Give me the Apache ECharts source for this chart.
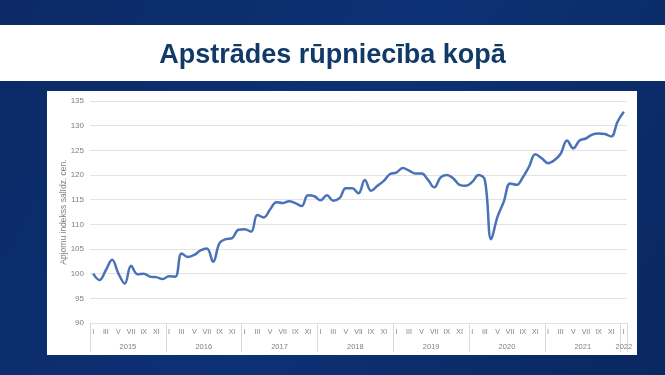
<!DOCTYPE html>
<html>
<head>
<meta charset="utf-8">
<script src="https://cdn.jsdelivr.net/npm/echarts@6/dist/echarts.min.js"></script>
<style>
html,body{margin:0;padding:0;}
#c{width:665px;height:375px;}
</style>
</head>
<body>
<div id="c"></div>
<script>
const years = ['2015','2016','2017','2018','2019','2020','2021','2022'];
const months = ['I','II','III','IV','V','VI','VII','VIII','IX','X','XI','XII'];
const values = [
  100.0, 98.7, 100.7, 102.8, 100.0, 98.0, 101.6, 99.9, 100.0, 99.4, 99.3, 98.9,
  99.5, 99.4, 104.1, 103.4, 103.8, 104.7, 105.1, 102.4, 106.2, 107.0, 107.2, 108.9,
  109.0, 108.5, 111.9, 111.4, 113.0, 114.5, 114.3, 114.7, 114.3, 113.7, 115.9, 115.7,
  114.9, 115.9, 114.8, 115.3, 117.3, 117.3, 116.3, 119.0, 116.8, 117.8, 118.8, 120.2,
  120.5, 121.4, 120.9, 120.3, 120.3, 119.0, 117.5, 119.5, 120.0, 119.3, 118.0, 117.8,
  118.6, 120.0, 119.0, 107.0, 111.5, 114.6, 118.3, 118.0, 119.5, 121.7, 124.2, 123.4,
  122.4, 123.0, 124.3, 127.0, 125.4, 127.0, 127.4, 128.2, 128.4, 128.3, 127.8, 130.8,
  132.8
];
const titleText = 'Apstrādes rūpniecība kopā';
const yAxisName = 'Apjomu indekss salīdz. cen.';

const categories = values.map((v, i) => months[i % 12]);
const yearTicks = years.map((y, k) => k * 12).concat([values.length]);
const yearLabelPos = years.map((y, k) => Math.min(k * 12 + 6, (k * 12 + values.length) / 2));

const chart = echarts.init(document.getElementById('c'));
chart.setOption({
  animation: false,
  backgroundColor: new echarts.graphic.LinearGradient(0, 0, 1, 1, [
    {offset: 0, color: '#0b2a66'},
    {offset: 0.5, color: '#0d3175'},
    {offset: 1, color: '#0a2860'}
  ]),
  graphic: [
    {type: 'rect', shape: {x: 0, y: 25, width: 665, height: 56}, style: {fill: '#ffffff'}, z: -1},
    {type: 'rect', shape: {x: 47, y: 91, width: 590, height: 264}, style: {fill: '#ffffff'}, z: -1}
  ],
  title: {
    text: titleText,
    left: 'center',
    top: 37,
    textStyle: {fontFamily: 'Liberation Sans', fontWeight: 'bold', fontSize: 27, color: '#123a68'}
  },
  grid: {left: 90, right: 38, top: 101, bottom: 52},
  xAxis: [
    {
      type: 'category',
      data: categories,
      boundaryGap: true,
      axisLine: {show: false},
      axisTick: {show: false},
      axisLabel: {interval: 1, margin: 6, fontSize: 7, color: '#7f7f7f', fontFamily: 'Liberation Sans'},
      splitLine: {show: false}
    },
    {
      type: 'value',
      min: 0,
      max: values.length,
      position: 'bottom',
      axisLine: {show: false},
      splitLine: {show: false},
      axisTick: {show: true, customValues: yearTicks, length: 29, lineStyle: {color: '#d9d9d9'}},
      axisLabel: {
        customValues: yearLabelPos,
        margin: 20,
        fontSize: 7.5,
        color: '#7f7f7f',
        fontFamily: 'Liberation Sans',
        formatter: function (v) {
          const k = Math.floor(v / 12);
          return years[k] || '';
        }
      }
    }
  ],
  yAxis: {
    type: 'value',
    min: 90,
    max: 135,
    interval: 5,
    name: yAxisName,
    nameLocation: 'middle',
    nameGap: 22,
    nameMoveOverlap: false,
    nameTextStyle: {fontSize: 8.5, color: '#7f7f7f', fontFamily: 'Liberation Sans'},
    axisLine: {show: false},
    axisTick: {show: false},
    axisLabel: {margin: 6, fontSize: 8, color: '#7f7f7f', fontFamily: 'Liberation Sans'},
    splitLine: {lineStyle: {color: '#e3e3e3', width: 1}}
  },
  series: [{
    type: 'line',
    data: values,
    xAxisIndex: 0,
    smooth: 0.4,
    showSymbol: false,
    lineStyle: {color: '#4a72b8', width: 2.5}
  }]
});
</script>
</body>
</html>
